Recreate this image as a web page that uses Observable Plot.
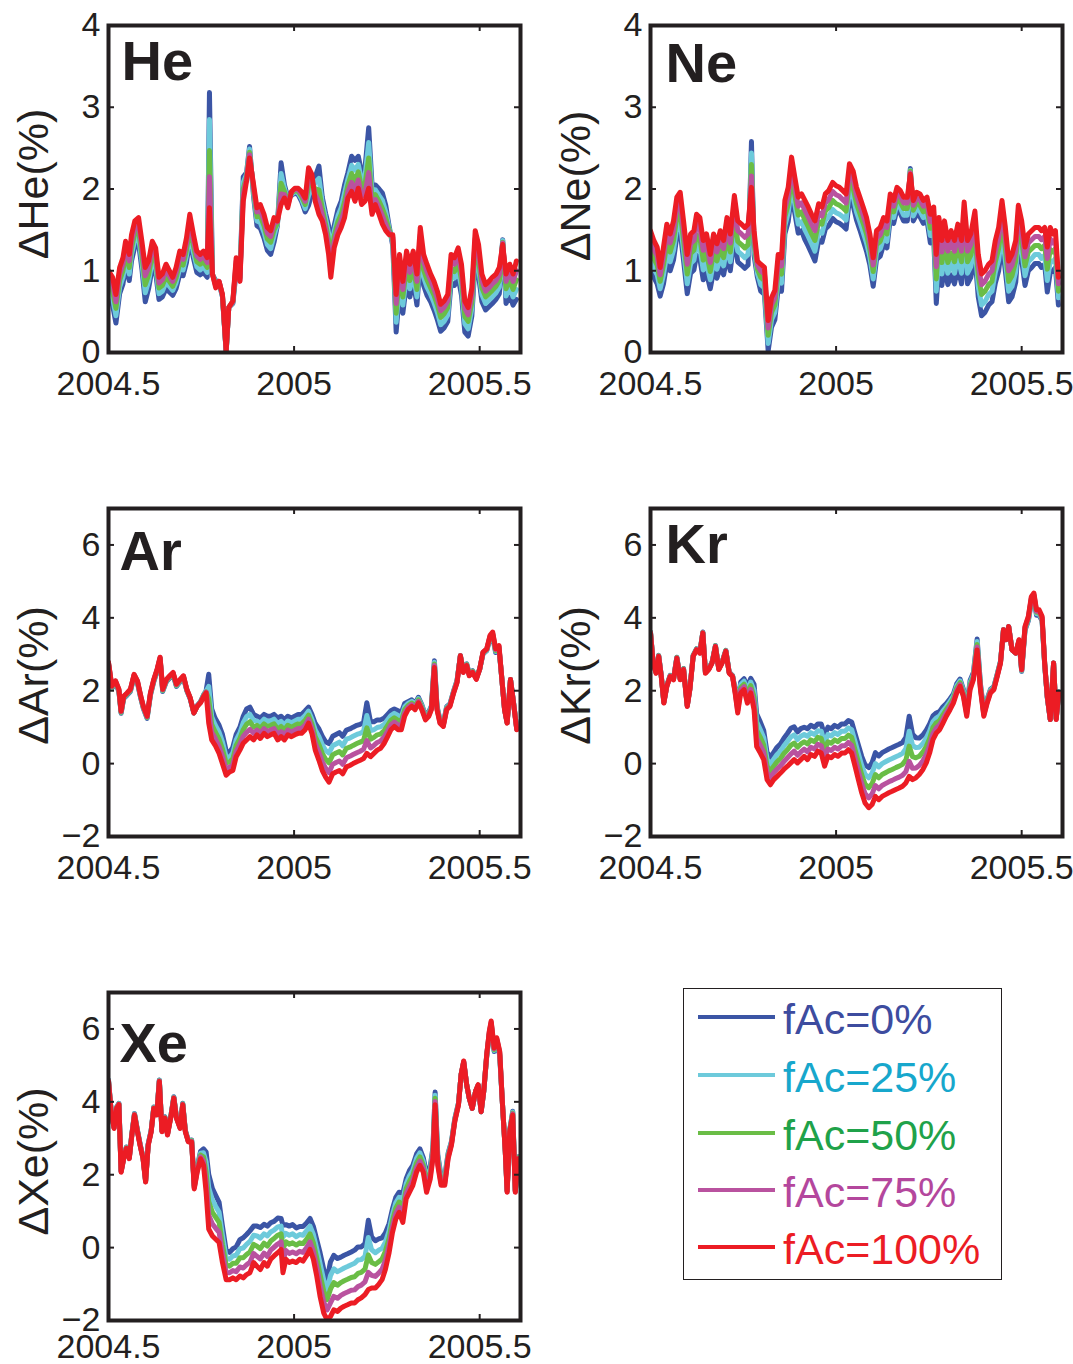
<!DOCTYPE html>
<html>
<head>
<meta charset="utf-8">
<script src="https://cdn.jsdelivr.net/npm/d3@7"></script>
<script src="https://cdn.jsdelivr.net/npm/@observablehq/plot@0.6"></script>
<style>
html, body { margin: 0; padding: 0; background: #fff; }
#root { position: relative; width: 1073px; height: 1364px; overflow: hidden; background: #fff; font-family: "Liberation Sans", Arial, sans-serif; }
#legend { position: absolute; left: 683px; top: 988px; width: 319px; height: 292px; border: 1.5px solid #231f20; box-sizing: border-box; background: #fff; }
.lrow { position: absolute; left: 14px; height: 50px; display: flex; align-items: center; white-space: nowrap; }
.lrow .sw { width: 77px; height: 4px; margin-right: 8px; margin-top: -5px; }
.lrow span { font-size: 43px; line-height: 1; }
</style>
</head>
<body>
<div id="root"></div>
<script>
// ================= data =================
const seriesNames = ["fAc=0%", "fAc=25%", "fAc=50%", "fAc=75%", "fAc=100%"];
const lineColors = ["#3b55a5", "#6dcadb", "#6abd46", "#b9529f", "#ec1c24"];
const textColors = ["#3d4c9f", "#17a7cc", "#1fa24a", "#b4479d", "#ec1c24"];
const panelTitles = ["He", "Ne", "Ar", "Kr", "Xe"];
const yLabels = ["ΔHe(%)", "ΔNe(%)", "ΔAr(%)", "ΔKr(%)", "ΔXe(%)"];
const xTicks = [2004.5, 2005, 2005.5];
const xTickLabels = ["2004.5", "2005", "2005.5"];
const yTicksLight = [0, 1, 2, 3, 4];
const yTicksHeavy = [-2, 0, 2, 4, 6];

// --- He ---
const tHe = [2004.500,2004.511,2004.520,2004.530,2004.539,2004.546,2004.556,2004.562,2004.571,2004.581,
  2004.590,2004.599,2004.608,2004.618,2004.627,2004.636,2004.645,2004.655,2004.664,2004.673,
  2004.682,2004.692,2004.701,2004.710,2004.719,2004.729,2004.738,2004.747,2004.756,2004.766,
  2004.772,2004.780,2004.789,2004.798,2004.807,2004.817,2004.824,2004.835,2004.844,2004.854,
  2004.863,2004.872,2004.880,2004.891,2004.900,2004.909,2004.919,2004.928,2004.937,2004.946,
  2004.955,2004.965,2004.974,2004.983,2004.993,2005.002,2005.011,2005.020,2005.030,2005.039,
  2005.048,2005.057,2005.067,2005.076,2005.085,2005.093,2005.099,2005.108,2005.118,2005.127,
  2005.136,2005.145,2005.155,2005.164,2005.173,2005.182,2005.191,2005.201,2005.210,2005.219,
  2005.229,2005.238,2005.247,2005.256,2005.266,2005.275,2005.284,2005.293,2005.303,2005.312,
  2005.321,2005.331,2005.340,2005.349,2005.358,2005.368,2005.377,2005.386,2005.395,2005.404,
  2005.414,2005.423,2005.432,2005.442,2005.451,2005.460,2005.469,2005.479,2005.488,2005.497,
  2005.506,2005.516,2005.525,2005.534,2005.544,2005.553,2005.562,2005.571,2005.581,2005.590,
  2005.599];
const He_0 = [.70,.58,.36,.72,.84,1.05,.88,1.12,1.30,1.34,
  1.02,.62,.78,1.04,.98,.65,.68,.78,.74,.70,
  .78,.96,.94,1.10,1.38,1.15,.98,.95,.98,.92,
  3.18,.95,.88,.85,.68,0,.55,.60,1.0,.92,
  2.15,2.20,2.52,1.90,1.55,1.52,1.40,1.25,1.20,1.35,
  1.55,2.32,2.05,1.90,1.92,1.95,1.93,1.85,1.72,1.80,
  1.95,2.15,2.28,1.90,1.70,1.55,1.30,1.55,1.75,1.85,
  2.05,2.20,2.40,2.35,2.40,2.20,2.25,2.75,2.05,2.05,
  2.00,1.95,1.80,1.55,1.30,.25,.75,.48,.85,.68,
  .88,.58,1.15,.82,.70,.62,.52,.40,.26,.30,
  .38,.85,.82,.92,.70,.25,.20,.45,1.12,.95,
  .62,.52,.56,.60,.65,.72,1.38,.60,.70,.58,
  .65];
const He_25 = [.78,.67,.45,.80,.92,1.13,.96,1.20,1.38,1.42,
  1.11,.73,.87,1.12,1.06,.72,.75,.86,.81,.76,
  .85,1.03,1.01,1.18,1.46,1.22,1.05,1.01,1.05,.98,
  2.85,.95,.86,.86,.69,.01,.55,.61,1.04,.91,
  2.08,2.18,2.49,1.94,1.61,1.59,1.47,1.32,1.27,1.43,
  1.57,2.19,2.01,1.87,1.93,1.97,1.95,1.88,1.76,1.92,
  2.01,2.08,2.13,1.83,1.64,1.46,1.21,1.48,1.67,1.77,
  1.95,2.12,2.29,2.23,2.30,2.10,2.15,2.57,1.96,1.99,
  1.92,1.86,1.72,1.52,1.34,.37,.86,.58,.95,.78,
  .97,.68,1.25,.92,.80,.71,.61,.49,.34,.38,
  .46,.94,.91,1.01,.80,.35,.29,.54,1.21,1.04,
  .71,.60,.64,.68,.73,.80,1.37,.69,.80,.68,
  .77];
const He_50 = [.85,.75,.54,.88,1.00,1.21,1.04,1.28,1.46,1.50,
  1.19,.83,.95,1.20,1.13,.79,.82,.93,.87,.81,
  .91,1.10,1.07,1.25,1.54,1.30,1.11,1.08,1.11,1.04,
  2.47,.96,.84,.86,.70,.01,.55,.62,1.08,.90,
  2.00,2.15,2.45,1.98,1.66,1.67,1.55,1.39,1.35,1.50,
  1.58,2.07,1.97,1.84,1.95,1.98,1.97,1.91,1.81,2.03,
  2.07,2.00,1.99,1.76,1.57,1.38,1.11,1.42,1.60,1.69,
  1.85,2.05,2.19,2.10,2.21,2.01,2.05,2.38,1.87,1.93,
  1.85,1.76,1.65,1.50,1.37,.48,.98,.68,1.05,.88,
  1.06,.77,1.34,1.01,.89,.79,.70,.58,.43,.47,
  .55,1.03,.99,1.10,.89,.44,.38,.62,1.31,1.14,
  .79,.68,.72,.76,.81,.88,1.35,.78,.89,.77,
  .89];
const He_75 = [.93,.84,.62,.96,1.08,1.28,1.12,1.36,1.53,1.57,
  1.28,.94,1.04,1.28,1.21,.85,.89,1.01,.94,.87,
  .98,1.17,1.14,1.33,1.61,1.37,1.18,1.14,1.18,1.10,
  2.15,.96,.81,.87,.70,.02,.55,.62,1.12,.88,
  1.93,2.13,2.42,2.01,1.72,1.74,1.62,1.46,1.42,1.58,
  1.60,1.94,1.93,1.80,1.96,2.00,1.99,1.94,1.85,2.15,
  2.12,1.93,1.84,1.68,1.51,1.29,1.02,1.35,1.52,1.61,
  1.75,1.97,2.08,1.98,2.11,1.91,1.95,2.20,1.78,1.87,
  1.77,1.67,1.57,1.47,1.41,.60,1.09,.77,1.14,.98,
  1.15,.87,1.44,1.11,.99,.88,.78,.66,.51,.55,
  .63,1.11,1.08,1.19,.99,.54,.46,.71,1.40,1.23,
  .88,.75,.79,.84,.88,.96,1.34,.87,.99,.87,
  1.00];
const He_100 = [1.00,.92,.71,1.04,1.16,1.36,1.20,1.44,1.61,1.65,
  1.36,1.04,1.12,1.36,1.28,.92,.96,1.08,1.00,.92,
  1.04,1.24,1.20,1.40,1.69,1.44,1.24,1.20,1.24,1.16,
  1.77,.96,.79,.87,.71,.02,.55,.63,1.16,.87,
  1.85,2.10,2.38,2.05,1.77,1.81,1.69,1.53,1.49,1.65,
  1.61,1.81,1.89,1.77,1.97,2.01,2.01,1.97,1.89,2.26,
  2.18,1.85,1.69,1.61,1.44,1.20,.92,1.28,1.44,1.53,
  1.65,1.89,1.97,1.85,2.01,1.81,1.85,2.01,1.69,1.81,
  1.69,1.57,1.49,1.44,1.44,.71,1.20,.87,1.24,1.08,
  1.24,.96,1.53,1.20,1.08,.96,.87,.75,.59,.63,
  .71,1.20,1.16,1.28,1.08,.63,.55,.79,1.49,1.32,
  .96,.83,.87,.92,.96,1.04,1.32,.96,1.08,.96,
  1.12];

// --- Ne ---
const tNe = [2004.500,2004.509,2004.518,2004.526,2004.535,2004.544,2004.553,2004.562,2004.571,2004.580,
  2004.589,2004.599,2004.608,2004.617,2004.624,2004.633,2004.642,2004.651,2004.661,2004.670,
  2004.679,2004.688,2004.697,2004.706,2004.715,2004.726,2004.735,2004.745,2004.754,2004.763,
  2004.772,2004.779,2004.788,2004.797,2004.807,2004.817,2004.826,2004.835,2004.844,2004.853,
  2004.862,2004.871,2004.880,2004.889,2004.898,2004.907,2004.916,2004.925,2004.934,2004.943,
  2004.953,2004.962,2004.971,2004.980,2004.991,2005.000,2005.009,2005.018,2005.027,2005.036,
  2005.046,2005.055,2005.064,2005.073,2005.082,2005.091,2005.100,2005.109,2005.119,2005.128,
  2005.137,2005.146,2005.155,2005.164,2005.173,2005.182,2005.192,2005.200,2005.208,2005.217,
  2005.226,2005.235,2005.245,2005.254,2005.263,2005.270,2005.277,2005.285,2005.292,2005.301,
  2005.310,2005.319,2005.328,2005.338,2005.345,2005.354,2005.363,2005.374,2005.383,2005.392,
  2005.401,2005.411,2005.420,2005.429,2005.438,2005.447,2005.456,2005.465,2005.474,2005.484,
  2005.491,2005.500,2005.509,2005.518,2005.527,2005.536,2005.546,2005.553,2005.562,2005.569,
  2005.577,2005.584,2005.591,2005.599];
const Ne_0 = [1.00,.92,.84,.69,.84,1.09,1.00,1.13,1.42,1.48,
  1.13,.72,.97,1.01,1.19,1.15,.89,.97,.78,1.00,
  .91,1.04,.95,1.17,1.00,1.42,1.11,1.07,1.03,1.07,
  2.58,1.19,.92,.75,.71,.02,.31,.40,.79,.75,
  1.45,1.60,1.95,1.70,1.46,1.49,1.38,1.30,1.21,1.12,
  1.37,1.35,1.51,1.55,1.64,1.60,1.58,1.55,1.51,1.88,
  1.80,1.62,1.50,1.37,1.24,1.07,.81,1.14,1.18,1.32,
  1.28,1.64,1.58,1.75,1.70,1.61,1.61,2.25,1.61,1.69,
  1.66,1.58,1.62,1.34,1.40,.60,1.10,.82,1.06,.83,
  .95,.84,1.04,.84,1.32,.84,.92,1.19,.68,.45,
  .49,.58,.62,.85,1.00,1.34,1.00,.62,.68,.86,
  1.30,1.13,.82,1.00,1.04,1.09,1.09,1.04,1.08,.74,
  .98,1.00,1.04,.58];
const Ne_25 = [1.12,1.03,.95,.78,.95,1.21,1.11,1.25,1.54,1.60,
  1.25,.84,1.09,1.13,1.32,1.28,1.01,1.09,.89,1.11,
  1.02,1.15,1.06,1.29,1.11,1.55,1.24,1.20,1.16,1.20,
  2.44,1.27,.97,.83,.79,.11,.40,.49,.89,.85,
  1.55,1.71,2.06,1.81,1.57,1.60,1.50,1.42,1.33,1.24,
  1.48,1.46,1.62,1.66,1.75,1.71,1.69,1.66,1.62,1.99,
  1.91,1.72,1.60,1.47,1.34,1.17,.90,1.23,1.27,1.40,
  1.36,1.72,1.65,1.82,1.77,1.68,1.68,2.23,1.67,1.76,
  1.73,1.65,1.69,1.43,1.50,.75,1.24,.96,1.20,.97,
  1.09,.97,1.17,.97,1.45,.97,1.05,1.33,.81,.58,
  .62,.71,.75,.98,1.13,1.47,1.13,.75,.81,.99,
  1.43,1.25,.94,1.11,1.15,1.20,1.20,1.15,1.19,.88,
  1.12,1.11,1.15,.67];
const Ne_50 = [1.25,1.15,1.07,.87,1.07,1.33,1.23,1.37,1.66,1.72,
  1.37,.96,1.21,1.25,1.44,1.40,1.13,1.21,.99,1.23,
  1.12,1.27,1.16,1.41,1.23,1.67,1.36,1.32,1.28,1.32,
  2.30,1.34,1.02,.92,.88,.21,.49,.58,1.00,.96,
  1.66,1.81,2.17,1.92,1.68,1.72,1.62,1.54,1.45,1.37,
  1.60,1.57,1.73,1.77,1.86,1.82,1.80,1.77,1.73,2.10,
  2.01,1.82,1.70,1.58,1.45,1.26,.99,1.32,1.36,1.49,
  1.45,1.79,1.72,1.89,1.84,1.76,1.76,2.22,1.74,1.83,
  1.80,1.72,1.76,1.52,1.59,.90,1.38,1.10,1.34,1.10,
  1.22,1.11,1.31,1.11,1.58,1.11,1.19,1.46,.94,.71,
  .75,.83,.87,1.11,1.27,1.60,1.27,.87,.94,1.12,
  1.55,1.37,1.06,1.23,1.27,1.31,1.31,1.27,1.31,1.02,
  1.26,1.23,1.27,.75];
const Ne_75 = [1.37,1.26,1.18,.95,1.18,1.45,1.34,1.49,1.78,1.84,
  1.49,1.08,1.33,1.37,1.57,1.53,1.25,1.33,1.10,1.34,
  1.23,1.38,1.27,1.53,1.34,1.80,1.49,1.45,1.41,1.45,
  2.16,1.42,1.07,1.00,.96,.30,.58,.67,1.10,1.06,
  1.76,1.92,2.28,2.03,1.79,1.83,1.74,1.66,1.57,1.49,
  1.71,1.67,1.83,1.87,1.97,1.93,1.91,1.87,1.83,2.20,
  2.12,1.92,1.80,1.68,1.55,1.36,1.07,1.40,1.44,1.57,
  1.53,1.87,1.79,1.95,1.91,1.83,1.83,2.20,1.80,1.89,
  1.87,1.79,1.83,1.60,1.69,1.05,1.51,1.23,1.47,1.24,
  1.36,1.24,1.44,1.24,1.71,1.24,1.32,1.60,1.07,.83,
  .87,.96,1.00,1.24,1.40,1.73,1.40,1.00,1.07,1.24,
  1.68,1.49,1.17,1.34,1.38,1.42,1.42,1.38,1.42,1.15,
  1.39,1.34,1.38,.84];
const Ne_100 = [1.49,1.37,1.29,1.04,1.29,1.57,1.45,1.61,1.90,1.96,
  1.61,1.20,1.45,1.49,1.69,1.65,1.37,1.45,1.20,1.45,
  1.33,1.49,1.37,1.65,1.45,1.92,1.61,1.57,1.53,1.57,
  2.02,1.49,1.12,1.08,1.04,.39,.67,.76,1.20,1.16,
  1.86,2.02,2.39,2.14,1.90,1.94,1.86,1.78,1.69,1.61,
  1.82,1.78,1.94,1.98,2.08,2.04,2.02,1.98,1.94,2.31,
  2.22,2.02,1.90,1.78,1.65,1.45,1.16,1.49,1.53,1.65,
  1.61,1.94,1.86,2.02,1.98,1.90,1.90,2.18,1.86,1.96,
  1.94,1.86,1.90,1.69,1.78,1.20,1.65,1.37,1.61,1.37,
  1.49,1.37,1.57,1.37,1.84,1.37,1.45,1.73,1.20,.96,
  1.00,1.08,1.12,1.37,1.53,1.86,1.53,1.12,1.20,1.37,
  1.80,1.61,1.29,1.45,1.49,1.53,1.53,1.49,1.53,1.29,
  1.53,1.45,1.49,.92];

// --- Ar ---
const tAr = [2004.500,2004.509,2004.519,2004.528,2004.534,2004.541,2004.550,2004.559,2004.569,2004.578,
  2004.587,2004.594,2004.604,2004.613,2004.622,2004.631,2004.639,2004.646,2004.656,2004.665,
  2004.674,2004.683,2004.693,2004.702,2004.711,2004.720,2004.730,2004.739,2004.748,2004.757,
  2004.763,2004.770,2004.778,2004.787,2004.798,2004.807,2004.817,2004.826,2004.835,2004.844,
  2004.854,2004.863,2004.872,2004.881,2004.891,2004.900,2004.909,2004.919,2004.928,2004.937,
  2004.946,2004.956,2004.965,2004.974,2004.983,2004.993,2005.002,2005.011,2005.020,2005.030,
  2005.039,2005.048,2005.057,2005.067,2005.076,2005.085,2005.094,2005.104,2005.113,2005.122,
  2005.131,2005.141,2005.150,2005.159,2005.169,2005.178,2005.187,2005.196,2005.206,2005.215,
  2005.224,2005.233,2005.243,2005.252,2005.261,2005.270,2005.280,2005.289,2005.298,2005.307,
  2005.317,2005.326,2005.335,2005.344,2005.354,2005.363,2005.370,2005.378,2005.385,2005.393,
  2005.402,2005.411,2005.420,2005.430,2005.439,2005.448,2005.456,2005.465,2005.472,2005.481,
  2005.491,2005.500,2005.509,2005.519,2005.528,2005.535,2005.543,2005.552,2005.559,2005.567,
  2005.574,2005.583,2005.591,2005.600];
const Ar_0 = [2.72,2.07,2.21,1.98,1.38,1.79,1.88,1.98,2.39,2.21,
  1.79,1.51,1.24,1.88,2.25,2.53,2.86,1.98,2.25,2.35,
  2.44,2.12,2.25,2.35,2.00,1.78,1.39,1.59,1.70,1.90,
  2.00,2.45,1.50,1.25,1.05,.80,.35,.30,.45,.80,
  1.00,1.30,1.50,1.55,1.35,1.30,1.25,1.35,1.30,1.30,
  1.35,1.25,1.30,1.20,1.30,1.25,1.30,1.35,1.35,1.45,
  1.55,1.35,1.10,.95,.75,.60,.55,.75,.80,.85,
  .75,.92,.95,1.00,1.05,1.08,1.12,1.67,1.15,1.15,
  1.20,1.20,1.25,1.35,1.45,1.50,1.45,1.40,1.65,1.70,
  1.75,1.65,1.82,1.62,1.32,1.42,1.58,2.82,1.58,1.20,
  1.10,1.56,1.64,2.00,2.28,2.96,2.55,2.74,2.46,2.55,
  2.36,2.59,3.01,3.10,3.44,3.49,3.05,3.14,2.41,1.50,
  1.13,2.31,1.70,.95];
const Ar_25 = [2.74,2.09,2.23,2.00,1.40,1.81,1.90,2.00,2.41,2.23,
  1.81,1.53,1.26,1.90,2.27,2.55,2.88,2.00,2.27,2.37,
  2.46,2.14,2.27,2.37,2.01,1.79,1.39,1.59,1.69,1.89,
  1.99,2.12,1.29,1.07,.86,.60,.18,.17,.29,.65,
  .84,1.12,1.29,1.35,1.18,1.17,1.11,1.22,1.16,1.17,
  1.22,1.10,1.16,1.06,1.17,1.12,1.17,1.22,1.22,1.32,
  1.44,1.22,.92,.74,.52,.36,.29,.49,.54,.59,
  .49,.67,.70,.75,.80,.83,.88,1.32,.91,.93,
  .99,1.01,1.08,1.20,1.32,1.38,1.32,1.28,1.56,1.65,
  1.71,1.61,1.78,1.59,1.29,1.39,1.56,2.78,1.56,1.18,
  1.08,1.54,1.62,1.99,2.27,2.96,2.54,2.73,2.45,2.54,
  2.35,2.59,3.02,3.11,3.46,3.52,3.08,3.17,2.41,1.50,
  1.13,2.31,1.69,.95];
const Ar_50 = [2.75,2.10,2.24,2.01,1.41,1.82,1.91,2.01,2.42,2.24,
  1.82,1.54,1.27,1.91,2.28,2.56,2.89,2.01,2.28,2.38,
  2.47,2.15,2.28,2.38,2.02,1.80,1.39,1.58,1.69,1.88,
  1.97,1.78,1.08,.88,.67,.40,.02,.04,.13,.50,
  .69,.93,1.08,1.15,1.00,1.05,.97,1.09,1.02,1.05,
  1.09,.95,1.02,.93,1.05,1.00,1.05,1.09,1.09,1.19,
  1.33,1.09,.74,.52,.28,.12,.02,.24,.29,.33,
  .24,.42,.45,.50,.55,.59,.63,.98,.67,.72,
  .79,.81,.91,1.05,1.19,1.26,1.19,1.17,1.48,1.59,
  1.66,1.57,1.75,1.55,1.26,1.36,1.53,2.73,1.53,1.16,
  1.06,1.52,1.61,1.97,2.25,2.96,2.53,2.72,2.44,2.53,
  2.34,2.59,3.04,3.13,3.48,3.55,3.10,3.19,2.41,1.49,
  1.12,2.31,1.69,.94];
const Ar_75 = [2.77,2.12,2.26,2.03,1.43,1.84,1.93,2.03,2.44,2.26,
  1.84,1.56,1.29,1.93,2.30,2.58,2.91,2.03,2.30,2.40,
  2.49,2.17,2.30,2.40,2.03,1.80,1.39,1.58,1.68,1.86,
  1.96,1.45,.86,.70,.47,.20,-.15,-.10,-.03,.34,
  .53,.75,.86,.94,.83,.92,.83,.96,.88,.92,
  .96,.80,.88,.79,.92,.87,.92,.96,.96,1.06,
  1.22,.96,.55,.31,.05,-.13,-.25,-.02,.03,.07,
  -.02,.16,.20,.25,.30,.34,.39,.63,.43,.50,
  .58,.62,.73,.89,1.06,1.14,1.06,1.05,1.39,1.54,
  1.62,1.52,1.71,1.52,1.23,1.33,1.51,2.69,1.51,1.13,
  1.04,1.50,1.59,1.96,2.24,2.96,2.51,2.70,2.42,2.51,
  2.32,2.59,3.05,3.14,3.50,3.58,3.13,3.22,2.41,1.49,
  1.12,2.31,1.68,.94];
const Ar_100 = [2.78,2.13,2.27,2.04,1.44,1.85,1.94,2.04,2.45,2.27,
  1.85,1.57,1.30,1.94,2.31,2.59,2.92,2.04,2.31,2.41,
  2.50,2.18,2.31,2.41,2.04,1.81,1.39,1.57,1.67,1.85,
  1.94,1.11,.65,.51,.28,.00,-.32,-.23,-.19,.19,
  .37,.56,.65,.74,.65,.79,.69,.83,.74,.79,
  .83,.65,.74,.65,.79,.74,.79,.83,.83,.93,
  1.11,.83,.37,.09,-.19,-.37,-.51,-.28,-.23,-.19,
  -.28,-.09,-.05,.00,.05,.09,.14,.28,.19,.28,
  .37,.42,.56,.74,.93,1.02,.93,.93,1.30,1.48,
  1.57,1.48,1.67,1.48,1.20,1.30,1.48,2.64,1.48,1.11,
  1.02,1.48,1.57,1.94,2.22,2.96,2.50,2.69,2.41,2.50,
  2.31,2.59,3.06,3.15,3.52,3.61,3.15,3.24,2.41,1.48,
  1.11,2.31,1.67,.93];

// --- Kr ---
const tKr = [2004.500,2004.507,2004.515,2004.522,2004.529,2004.536,2004.544,2004.553,2004.562,2004.571,
  2004.580,2004.589,2004.599,2004.606,2004.615,2004.624,2004.633,2004.641,2004.648,2004.657,
  2004.666,2004.675,2004.684,2004.693,2004.703,2004.712,2004.721,2004.728,2004.735,2004.743,
  2004.752,2004.761,2004.770,2004.779,2004.786,2004.796,2004.805,2004.814,2004.823,2004.832,
  2004.841,2004.850,2004.859,2004.869,2004.878,2004.887,2004.896,2004.905,2004.914,2004.923,
  2004.932,2004.942,2004.951,2004.960,2004.969,2004.978,2004.987,2004.996,2005.005,2005.015,
  2005.024,2005.033,2005.042,2005.051,2005.060,2005.069,2005.078,2005.088,2005.097,2005.106,
  2005.115,2005.124,2005.133,2005.142,2005.151,2005.161,2005.170,2005.179,2005.188,2005.197,
  2005.206,2005.215,2005.224,2005.234,2005.243,2005.252,2005.261,2005.270,2005.279,2005.288,
  2005.297,2005.307,2005.316,2005.325,2005.334,2005.343,2005.352,2005.361,2005.370,2005.380,
  2005.389,2005.398,2005.407,2005.416,2005.425,2005.434,2005.443,2005.451,2005.458,2005.465,
  2005.474,2005.484,2005.493,2005.500,2005.509,2005.518,2005.526,2005.533,2005.540,2005.547,
  2005.555,2005.562,2005.569,2005.577,2005.586,2005.593,2005.600];
const Kr_0 = [3.61,2.79,2.51,2.97,2.42,1.69,2.15,2.42,2.33,2.92,
  2.33,2.61,1.60,2.06,2.97,3.15,3.06,3.61,2.51,2.61,
  2.79,3.24,2.61,2.79,3.11,2.51,2.42,2.04,1.64,2.24,
  2.33,2.11,2.34,2.18,1.37,1.14,.91,.31,.17,.31,
  .45,.54,.69,.83,.97,1.01,.87,.96,1.00,.96,
  1.05,1.00,1.09,1.09,.78,1.00,.96,1.05,1.00,1.09,
  1.09,1.18,1.14,.83,.51,.20,-.03,-.11,.03,.30,
  .21,.30,.35,.40,.44,.49,.53,.58,.72,1.30,
  .81,.71,.70,.79,.92,1.09,1.31,1.39,1.43,1.56,
  1.65,1.78,1.91,2.19,2.32,2.04,1.55,2.28,2.50,3.42,
  2.18,1.45,1.78,2.04,2.11,2.45,2.81,3.67,3.40,3.76,
  3.12,3.03,3.35,2.53,3.66,3.92,4.43,4.53,4.07,4.07,
  3.92,2.71,1.81,1.21,2.76,1.24,1.97];
const Kr_25 = [3.60,2.78,2.50,2.96,2.41,1.68,2.14,2.41,2.32,2.91,
  2.32,2.60,1.59,2.05,2.96,3.14,3.05,3.60,2.50,2.60,
  2.78,3.23,2.60,2.78,3.10,2.50,2.41,2.02,1.58,2.17,
  2.26,2.00,2.24,2.01,1.15,.93,.71,.12,-.02,.12,
  .25,.34,.48,.61,.73,.79,.66,.75,.80,.75,
  .85,.80,.90,.89,.57,.80,.76,.85,.80,.89,
  .89,.98,.93,.61,.27,-.05,-.29,-.39,-.26,.00,
  -.09,.00,.05,.10,.14,.19,.23,.28,.41,.89,
  .50,.44,.45,.55,.70,.89,1.15,1.25,1.31,1.45,
  1.56,1.71,1.85,2.13,2.27,1.99,1.49,2.22,2.45,3.35,
  2.14,1.41,1.75,2.02,2.09,2.44,2.80,3.67,3.40,3.76,
  3.12,3.03,3.36,2.54,3.69,3.95,4.47,4.57,4.11,4.11,
  3.95,2.72,1.82,1.21,2.76,1.23,1.96];
const Kr_50 = [3.60,2.78,2.50,2.96,2.41,1.68,2.14,2.41,2.32,2.91,
  2.32,2.60,1.59,2.05,2.96,3.14,3.05,3.60,2.50,2.60,
  2.78,3.23,2.60,2.78,3.10,2.50,2.41,1.99,1.52,2.09,
  2.18,1.89,2.14,1.83,.92,.72,.51,-.07,-.21,-.07,
  .05,.14,.27,.38,.50,.56,.45,.54,.60,.54,
  .65,.60,.72,.69,.36,.60,.56,.65,.60,.69,
  .69,.78,.72,.38,.04,-.30,-.56,-.66,-.55,-.30,
  -.39,-.30,-.25,-.20,-.16,-.11,-.07,-.02,.10,.48,
  .19,.16,.20,.32,.47,.69,.99,1.12,1.18,1.34,
  1.48,1.63,1.79,2.07,2.22,1.94,1.43,2.16,2.40,3.27,
  2.11,1.38,1.72,1.99,2.07,2.42,2.79,3.67,3.40,3.76,
  3.12,3.03,3.38,2.56,3.71,3.98,4.51,4.61,4.15,4.15,
  3.98,2.74,1.83,1.21,2.76,1.23,1.96];
const Kr_75 = [3.59,2.77,2.49,2.95,2.40,1.67,2.13,2.40,2.31,2.90,
  2.31,2.59,1.58,2.04,2.95,3.13,3.04,3.59,2.49,2.59,
  2.77,3.22,2.59,2.77,3.09,2.49,2.40,1.97,1.45,2.02,
  2.11,1.77,2.04,1.66,.70,.50,.31,-.25,-.39,-.25,
  -.15,-.06,.05,.16,.26,.34,.23,.32,.40,.32,
  .45,.40,.53,.49,.14,.40,.36,.45,.40,.49,
  .49,.58,.50,.16,-.20,-.55,-.82,-.94,-.83,-.60,
  -.69,-.60,-.55,-.50,-.46,-.41,-.37,-.32,-.22,.06,
  -.13,-.12,-.05,.08,.25,.49,.82,.98,1.06,1.22,
  1.39,1.56,1.72,2.00,2.17,1.89,1.36,2.09,2.35,3.20,
  2.07,1.34,1.69,1.97,2.05,2.41,2.77,3.67,3.40,3.76,
  3.12,3.03,3.39,2.57,3.74,4.01,4.54,4.64,4.18,4.18,
  4.01,2.75,1.83,1.21,2.76,1.22,1.95];
const Kr_100 = [3.58,2.76,2.48,2.94,2.39,1.66,2.12,2.39,2.30,2.89,
  2.30,2.58,1.57,2.03,2.94,3.12,3.03,3.58,2.48,2.58,
  2.76,3.21,2.58,2.76,3.08,2.48,2.39,1.94,1.39,1.94,
  2.03,1.66,1.94,1.48,.47,.29,.11,-.44,-.58,-.44,
  -.35,-.26,-.16,-.07,.02,.11,.02,.11,.20,.11,
  .25,.20,.34,.29,-.07,.20,.16,.25,.20,.29,
  .29,.38,.29,-.07,-.44,-.80,-1.08,-1.21,-1.12,-.90,
  -.99,-.90,-.85,-.80,-.76,-.71,-.67,-.62,-.53,-.35,
  -.44,-.39,-.30,-.16,.02,.29,.66,.84,.93,1.11,
  1.30,1.48,1.66,1.94,2.12,1.84,1.30,2.03,2.30,3.12,
  2.03,1.30,1.66,1.94,2.03,2.39,2.76,3.67,3.40,3.76,
  3.12,3.03,3.40,2.58,3.76,4.04,4.58,4.68,4.22,4.22,
  4.04,2.76,1.84,1.21,2.76,1.21,1.94];

// --- Xe ---
const tXe = [2004.500,2004.507,2004.515,2004.522,2004.528,2004.534,2004.541,2004.548,2004.556,2004.563,
  2004.570,2004.578,2004.585,2004.593,2004.600,2004.607,2004.615,2004.622,2004.630,2004.637,
  2004.644,2004.652,2004.659,2004.669,2004.676,2004.683,2004.693,2004.700,2004.707,2004.715,
  2004.724,2004.731,2004.739,2004.748,2004.756,2004.763,2004.770,2004.780,2004.789,2004.798,
  2004.807,2004.817,2004.826,2004.835,2004.844,2004.854,2004.863,2004.872,2004.881,2004.891,
  2004.900,2004.909,2004.919,2004.928,2004.937,2004.946,2004.956,2004.965,2004.970,2004.978,
  2004.987,2004.996,2005.006,2005.015,2005.024,2005.033,2005.043,2005.052,2005.061,2005.070,
  2005.080,2005.089,2005.098,2005.107,2005.117,2005.126,2005.135,2005.144,2005.154,2005.163,
  2005.172,2005.181,2005.191,2005.200,2005.209,2005.219,2005.228,2005.237,2005.246,2005.256,
  2005.265,2005.274,2005.283,2005.293,2005.302,2005.311,2005.320,2005.330,2005.339,2005.348,
  2005.357,2005.367,2005.374,2005.380,2005.387,2005.396,2005.406,2005.415,2005.424,2005.433,
  2005.443,2005.450,2005.457,2005.465,2005.472,2005.480,2005.489,2005.496,2005.504,2005.511,
  2005.519,2005.526,2005.531,2005.539,2005.546,2005.554,2005.561,2005.569,2005.574,2005.581,
  2005.589,2005.596,2005.604];
const Xe_0 = [4.60,3.77,3.31,3.86,3.96,2.11,2.48,2.76,2.48,3.13,
  3.68,3.22,2.85,2.48,1.84,2.85,3.22,3.86,3.68,4.60,
  3.22,3.59,3.13,3.68,4.14,3.59,3.31,3.96,3.22,2.94,
  2.95,1.71,2.22,2.64,2.71,2.62,2.01,1.62,1.43,1.24,
  .59,-.08,-.13,-.03,.02,.22,.27,.36,.46,.59,
  .59,.55,.64,.59,.68,.72,.81,.80,.61,.63,
  .59,.63,.54,.58,.58,.67,.80,.58,.22,-.14,
  -.60,-.88,-.39,-.21,-.30,-.26,-.21,-.17,-.12,-.07,
  .02,.02,.11,.75,.29,.19,.24,.27,.40,.66,
  1.06,1.38,1.52,1.49,1.89,2.12,2.26,2.57,2.71,2.47,
  2.02,2.24,2.74,4.27,2.56,1.96,1.96,2.59,2.91,3.54,
  3.97,4.75,5.07,4.47,4.10,3.82,4.29,4.44,3.73,4.29,
  5.25,5.84,6.10,5.38,5.64,5.27,4.01,2.66,1.57,3.23,
  3.74,1.57,2.49];
const Xe_25 = [4.59,3.76,3.30,3.85,3.95,2.10,2.47,2.75,2.47,3.12,
  3.67,3.21,2.84,2.47,1.83,2.84,3.21,3.85,3.67,4.59,
  3.21,3.58,3.12,3.67,4.13,3.58,3.30,3.95,3.21,2.93,
  2.94,1.69,2.18,2.59,2.60,2.35,1.64,1.30,1.13,.97,
  .34,-.28,-.32,-.23,-.21,-.03,-.01,.09,.17,.34,
  .32,.26,.38,.32,.43,.48,.57,.59,.29,.39,
  .34,.38,.30,.36,.34,.45,.59,.36,-.03,-.44,
  -.90,-1.16,-.77,-.58,-.66,-.61,-.56,-.52,-.47,-.43,
  -.34,-.33,-.24,.28,-.06,-.14,-.07,-.02,.15,.46,
  .90,1.23,1.38,1.29,1.75,1.97,2.12,2.45,2.60,2.37,
  1.90,2.15,2.67,4.18,2.49,1.90,1.90,2.55,2.89,3.52,
  3.96,4.75,5.08,4.47,4.10,3.82,4.29,4.45,3.73,4.29,
  5.26,5.87,6.13,5.41,5.67,5.30,4.01,2.65,1.56,3.22,
  3.72,1.56,2.48];
const Xe_50 = [4.58,3.75,3.29,3.84,3.94,2.09,2.46,2.74,2.46,3.11,
  3.66,3.20,2.83,2.46,1.82,2.83,3.20,3.84,3.66,4.58,
  3.20,3.57,3.11,3.66,4.12,3.57,3.29,3.94,3.20,2.92,
  2.93,1.66,2.15,2.54,2.49,2.07,1.26,.97,.83,.69,
  .09,-.48,-.51,-.43,-.43,-.28,-.28,-.19,-.12,.09,
  .04,-.03,.12,.04,.18,.25,.34,.38,-.04,.16,
  .09,.13,.07,.13,.11,.22,.38,.13,-.28,-.74,
  -1.20,-1.43,-1.14,-.96,-1.03,-.96,-.91,-.87,-.82,-.80,
  -.71,-.68,-.59,-.20,-.41,-.46,-.39,-.31,-.10,.26,
  .74,1.08,1.25,1.09,1.62,1.82,1.99,2.32,2.49,2.27,
  1.77,2.07,2.59,4.10,2.41,1.84,1.84,2.52,2.86,3.50,
  3.95,4.75,5.10,4.47,4.10,3.82,4.29,4.46,3.73,4.29,
  5.28,5.89,6.16,5.43,5.70,5.33,4.01,2.65,1.55,3.21,
  3.69,1.55,2.47];
const Xe_75 = [4.57,3.74,3.28,3.83,3.93,2.08,2.45,2.73,2.45,3.10,
  3.65,3.19,2.82,2.45,1.81,2.82,3.19,3.83,3.65,4.57,
  3.19,3.56,3.10,3.65,4.11,3.56,3.28,3.93,3.19,2.91,
  2.91,1.64,2.11,2.49,2.37,1.80,.89,.65,.53,.42,
  -.16,-.68,-.69,-.63,-.66,-.53,-.56,-.47,-.40,-.16,
  -.24,-.31,-.15,-.24,-.07,.01,.10,.16,-.37,-.08,
  -.16,-.12,-.17,-.10,-.13,-.01,.16,-.10,-.53,-1.04,
  -1.50,-1.71,-1.52,-1.34,-1.39,-1.31,-1.26,-1.22,-1.17,-1.16,
  -1.07,-1.03,-.94,-.68,-.76,-.79,-.70,-.59,-.35,.06,
  .57,.93,1.11,.89,1.48,1.67,1.85,2.20,2.37,2.17,
  1.65,1.98,2.52,4.01,2.34,1.77,1.77,2.48,2.84,3.48,
  3.93,4.75,5.11,4.47,4.10,3.82,4.29,4.46,3.73,4.29,
  5.29,5.92,6.19,5.46,5.73,5.36,4.01,2.64,1.53,3.19,
  3.67,1.53,2.45];
const Xe_100 = [4.56,3.73,3.27,3.82,3.92,2.07,2.44,2.72,2.44,3.09,
  3.64,3.18,2.81,2.44,1.80,2.81,3.18,3.82,3.64,4.56,
  3.18,3.55,3.09,3.64,4.10,3.55,3.27,3.92,3.18,2.90,
  2.90,1.61,2.07,2.44,2.26,1.52,.51,.32,.23,.14,
  -.41,-.88,-.88,-.83,-.88,-.78,-.83,-.74,-.69,-.41,
  -.51,-.60,-.41,-.51,-.32,-.23,-.14,-.05,-.69,-.32,
  -.41,-.37,-.41,-.32,-.37,-.23,-.05,-.32,-.78,-1.34,
  -1.80,-1.98,-1.89,-1.71,-1.75,-1.66,-1.61,-1.57,-1.52,-1.52,
  -1.43,-1.38,-1.29,-1.15,-1.11,-1.11,-1.01,-.88,-.60,-.14,
  .41,.78,.97,.69,1.34,1.52,1.71,2.07,2.26,2.07,
  1.52,1.89,2.44,3.92,2.26,1.71,1.71,2.44,2.81,3.46,
  3.92,4.75,5.12,4.47,4.10,3.82,4.29,4.47,3.73,4.29,
  5.30,5.94,6.22,5.48,5.76,5.39,4.01,2.63,1.52,3.18,
  3.64,1.52,2.44];

// ================= layout / style =================
const INK = "#231f20";
const FONT = "'Liberation Sans', Arial, Helvetica, sans-serif";
const xDomain = [2004.5, 2005.61];
const fmtY = d => (d < 0 ? "\u2212" : "") + Math.abs(d);

const panels = [
  {title: panelTitles[0], ylabel: yLabels[0], t: tHe, series: [He_0, He_25, He_50, He_75, He_100], yDomain: [0, 4], yTicks: yTicksLight,
   left: 0, top: 0, width: 540, height: 412, ml: 108, mr: 20, mt: 25, mb: 60, tx: 13, ty: 15, ly: -5, xpad: 18},
  {title: panelTitles[1], ylabel: yLabels[1], t: tNe, series: [Ne_0, Ne_25, Ne_50, Ne_75, Ne_100], yDomain: [0, 4], yTicks: yTicksLight,
   left: 542, top: 0, width: 531, height: 412, ml: 108, mr: 11, mt: 25, mb: 60, tx: 15, ty: 17, ly: -3, xpad: 18},
  {title: panelTitles[2], ylabel: yLabels[2], t: tAr, series: [Ar_0, Ar_25, Ar_50, Ar_75, Ar_100], yDomain: [-2, 7], yTicks: yTicksHeavy,
   left: 0, top: 483, width: 540, height: 413, ml: 108, mr: 20, mt: 25, mb: 60, tx: 11, ty: 22, ly: 3, xpad: 18},
  {title: panelTitles[3], ylabel: yLabels[3], t: tKr, series: [Kr_0, Kr_25, Kr_50, Kr_75, Kr_100], yDomain: [-2, 7], yTicks: yTicksHeavy,
   left: 542, top: 483, width: 531, height: 413, ml: 108, mr: 11, mt: 25, mb: 60, tx: 15, ty: 15, ly: 3, xpad: 18},
  {title: panelTitles[4], ylabel: yLabels[4], t: tXe, series: [Xe_0, Xe_25, Xe_50, Xe_75, Xe_100], yDomain: [-2, 7], yTicks: yTicksHeavy,
   left: 0, top: 967, width: 540, height: 397, ml: 108, mr: 20, mt: 25, mb: 44, tx: 11, ty: 30, ly: 5, xpad: 13}
];

const root = document.getElementById("root");

for (const cfg of panels) {
  const rows = [];
  cfg.series.forEach((vals, i) => vals.forEach((v, j) => rows.push({t: cfg.t[j], v, s: seriesNames[i]})));
  const fw = cfg.width - cfg.ml - cfg.mr;
  const fh = cfg.height - cfg.mt - cfg.mb;
  const tick = 6;
  const chart = Plot.plot({
    width: cfg.width,
    height: cfg.height,
    marginLeft: cfg.ml, marginRight: cfg.mr, marginTop: cfg.mt, marginBottom: cfg.mb,
    style: {fontFamily: FONT, fontSize: "34px", color: INK, background: "transparent", overflow: "visible"},
    x: {domain: xDomain, ticks: xTicks, tickFormat: d => xTickLabels[xTicks.indexOf(d)], tickSize: 0, tickPadding: cfg.xpad, label: null},
    y: {domain: cfg.yDomain, ticks: cfg.yTicks, tickFormat: fmtY, tickSize: 0, tickPadding: 8, label: null},
    color: {domain: seriesNames, range: lineColors},
    marks: [
      Plot.line(rows, {x: "t", y: "v", z: "s", stroke: "s", strokeWidth: 5, strokeLinejoin: "round", strokeLinecap: "round", clip: true}),
      Plot.tickX(xTicks, {x: d => d, insetTop: fh - tick, stroke: INK, strokeWidth: 2}),
      Plot.tickX(xTicks, {x: d => d, insetBottom: fh - tick, stroke: INK, strokeWidth: 2}),
      Plot.tickY(cfg.yTicks, {y: d => d, insetRight: fw - tick, stroke: INK, strokeWidth: 2}),
      Plot.tickY(cfg.yTicks, {y: d => d, insetLeft: fw - tick, stroke: INK, strokeWidth: 2}),
      Plot.frame({stroke: INK, strokeWidth: 4}),
      Plot.text([cfg.title], {text: d => d, frameAnchor: "top-left", dx: cfg.tx, dy: cfg.ty, textAnchor: "start", lineAnchor: "top",
        fontSize: 56, fontWeight: "bold", fill: INK, fontFamily: FONT}),
      Plot.text([cfg.ylabel], {text: d => d, frameAnchor: "left", rotate: -90, dx: -74, dy: cfg.ly, textAnchor: "middle", lineAnchor: "middle",
        fontSize: 43, fill: INK, fontFamily: FONT})
    ]
  });
  chart.style.position = "absolute";
  chart.style.left = cfg.left + "px";
  chart.style.top = cfg.top + "px";
  root.appendChild(chart);
}

// ================= legend =================
const legend = document.createElement("div");
legend.id = "legend";
const rowCenters = [30, 88, 146, 203, 260];
seriesNames.forEach((name, i) => {
  const row = document.createElement("div");
  row.className = "lrow";
  row.style.top = (rowCenters[i] - 25) + "px";
  const sw = document.createElement("div");
  sw.className = "sw";
  sw.style.background = lineColors[i];
  const label = document.createElement("span");
  label.textContent = name;
  label.style.color = textColors[i];
  row.appendChild(sw);
  row.appendChild(label);
  legend.appendChild(row);
});
root.appendChild(legend);
</script>
</body>
</html>
